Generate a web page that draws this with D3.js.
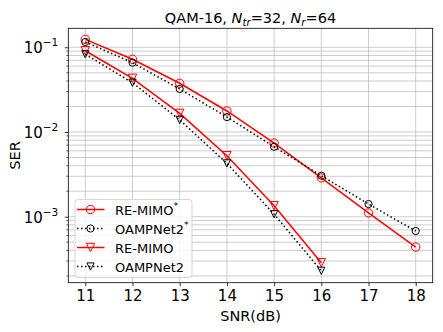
<!DOCTYPE html>
<html>
<head>
<meta charset="utf-8">
<script src="https://cdn.jsdelivr.net/npm/d3@7"></script>
<style>
  body { margin: 0; background: #fff; }
  text { font-family: "DejaVu Sans", sans-serif; }
</style>
</head>
<body>
<div id="chart"></div>
<script>
// ---- data ----
const snrAll = [11, 12, 13, 14, 15, 16, 17, 18];
const snrShort = [11, 12, 13, 14, 15, 16];
const reMimoStar = [0.124, 0.0722, 0.0376, 0.0177, 0.0074, 0.00287, 0.00111, 0.000438];
const oampStar = [0.1155, 0.0658, 0.0322, 0.0150, 0.0067, 0.00305, 0.00141, 0.000678];
const reMimo = [0.091, 0.043, 0.0166, 0.00525, 0.00135, 0.000286];
const oamp = [0.0827, 0.0382, 0.0139, 0.00426, 0.00107, 0.00023];
const xTicks = [11, 12, 13, 14, 15, 16, 17, 18];
const yTicks = [1e-3, 1e-2, 1e-1];
const yExponents = ["\u22123", "\u22122", "\u22121"];

const series = [
  { name: "RE-MIMO", star: true, x: snrAll, y: reMimoStar, color: "red", dash: null, marker: "circle" },
  { name: "OAMPNet2", star: true, x: snrAll, y: oampStar, color: "black", dash: "1.5,2.5", marker: "circle" },
  { name: "RE-MIMO", star: false, x: snrShort, y: reMimo, color: "red", dash: null, marker: "tri" },
  { name: "OAMPNet2", star: false, x: snrShort, y: oamp, color: "black", dash: "1.5,2.5", marker: "tri" }
];

const W = 443, H = 332;
const margin = { top: 28.3, right: 10.3, bottom: 49.3, left: 68.3 };
const width = W - margin.left - margin.right;
const height = H - margin.top - margin.bottom;

const svg = d3.select("#chart").append("svg")
  .attr("width", W).attr("height", H);

const g = svg.append("g")
  .attr("transform", `translate(${margin.left},${margin.top})`);

const x = d3.scaleLinear().domain([10.64, 18.36]).range([0, width]);
const y = d3.scaleLog().domain([Math.pow(10, -3.779), Math.pow(10, -0.776)]).range([height, 0]);

// minor ticks for log axis
const minorTicks = [];
for (let e = -4; e <= -1; e++) {
  for (let m = 2; m <= 9; m++) {
    const v = m * Math.pow(10, e);
    if (v >= y.domain()[0] && v <= y.domain()[1]) minorTicks.push(v);
  }
}

// grid
g.append("g").selectAll("line.vg").data(xTicks).enter().append("line")
  .attr("x1", d => x(d)).attr("x2", d => x(d))
  .attr("y1", 0).attr("y2", height)
  .attr("stroke", "#b0b0b0").attr("stroke-width", 0.8).attr("stroke-opacity", 0.8);
g.append("g").selectAll("line.hg").data(yTicks.concat(minorTicks)).enter().append("line")
  .attr("x1", 0).attr("x2", width)
  .attr("y1", d => y(d)).attr("y2", d => y(d))
  .attr("stroke", "#b0b0b0").attr("stroke-width", 0.8).attr("stroke-opacity", 0.8);

// series
const line = d3.line().x(d => x(d[0])).y(d => y(d[1]));
series.forEach(s => {
  const pts = s.x.map((v, i) => [v, s.y[i]]);
  g.append("path").datum(pts)
    .attr("d", line)
    .attr("fill", "none")
    .attr("stroke", s.color)
    .attr("stroke-width", 1.5)
    .attr("stroke-dasharray", s.dash);
  drawMarkers(g, pts.map(p => [x(p[0]), y(p[1])]), s);
});

function drawMarkers(sel, pts, s) {
  const r = s.color === "red" ? 4.2 : 3.6;
  pts.forEach(p => {
    if (s.marker === "circle") {
      sel.append("circle").attr("cx", p[0]).attr("cy", p[1]).attr("r", r)
        .attr("fill", "none").attr("stroke", s.color).attr("stroke-width", 1);
    } else {
      sel.append("path")
        .attr("d", `M${p[0] - r},${p[1] - r}L${p[0] + r},${p[1] - r}L${p[0]},${p[1] + r}Z`)
        .attr("fill", "none").attr("stroke", s.color).attr("stroke-width", 1);
    }
  });
}

// axes
const xAxis = g.append("g").attr("transform", `translate(0,${height})`)
  .call(d3.axisBottom(x).tickValues(xTicks).tickFormat(d3.format("d")).tickSizeInner(3.5).tickSizeOuter(0));
xAxis.selectAll("text").attr("font-size", "15px").attr("fill", "#000").attr("dy", "0.81em");

const yAxis = g.append("g")
  .call(d3.axisLeft(y).tickValues(yTicks).tickFormat("").tickSizeInner(3.5).tickSizeOuter(0));
g.append("g").selectAll("line").data(minorTicks).enter().append("line")
  .attr("x1", -2).attr("x2", 0).attr("y1", d => y(d)).attr("y2", d => y(d))
  .attr("stroke", "#000").attr("stroke-width", 0.6);

[xAxis, yAxis].forEach(a => {
  a.select(".domain").remove();
  a.selectAll(".tick line").attr("stroke", "#000").attr("stroke-width", 0.8);
});

yTicks.forEach((v, i) => {
  const t = g.append("text")
    .attr("x", -10).attr("y", y(v) + 6)
    .attr("text-anchor", "end")
    .attr("font-size", "15px");
  t.append("tspan").text("10");
  t.append("tspan").attr("dy", -7).attr("font-size", "10.5px").text(yExponents[i]);
});

// frame
g.append("rect").attr("width", width).attr("height", height)
  .attr("fill", "none").attr("stroke", "#000").attr("stroke-width", 0.8);

// labels
svg.append("text")
  .attr("x", margin.left + width / 2).attr("y", 321)
  .attr("text-anchor", "middle").attr("font-size", "14.5px")
  .text("SNR(dB)");
svg.append("text")
  .attr("transform", `translate(20,${margin.top + height / 2}) rotate(-90)`)
  .attr("text-anchor", "middle").attr("font-size", "14.5px")
  .text("SER");

const title = svg.append("text")
  .attr("x", margin.left + width / 2).attr("y", 22.5)
  .attr("text-anchor", "middle").attr("font-size", "14.5px");
title.append("tspan").text("QAM-16, ");
title.append("tspan").attr("font-style", "italic").text("N");
title.append("tspan").attr("font-style", "italic").attr("font-size", "10.2px").attr("dy", 3).text("tr");
title.append("tspan").attr("dy", -3).text("=32, ");
title.append("tspan").attr("font-style", "italic").text("N");
title.append("tspan").attr("font-style", "italic").attr("font-size", "10.2px").attr("dy", 3).text("r");
title.append("tspan").attr("dy", -3).text("=64");

// legend
const lg = svg.append("g").attr("transform", "translate(75,199.5)");
lg.append("rect").attr("width", 117).attr("height", 78).attr("rx", 3)
  .attr("fill", "#fff").attr("fill-opacity", 0.8)
  .attr("stroke", "#cccccc").attr("stroke-width", 0.8);
series.forEach((s, i) => {
  const cy = 10 + i * 19;
  lg.append("line").attr("x1", 2).attr("x2", 29.5).attr("y1", cy).attr("y2", cy)
    .attr("stroke", s.color).attr("stroke-width", 1.5).attr("stroke-dasharray", s.dash);
  drawMarkers(lg, [[15.5, cy]], s);
  const t = lg.append("text").attr("x", 40).attr("y", cy + 5).attr("font-size", "13px");
  t.append("tspan").text(s.name);
  if (s.star) t.append("tspan").attr("dy", -5.5).attr("font-size", "9.5px").text("*");
});
</script>
</body>
</html>
